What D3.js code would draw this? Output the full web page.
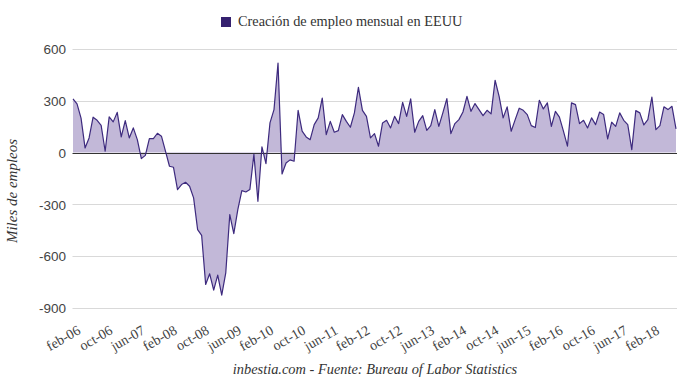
<!DOCTYPE html>
<html><head><meta charset="utf-8">
<script src="https://cdn.jsdelivr.net/npm/d3@7"></script>
<style>body{margin:0;background:#fff}svg{display:block}</style>
</head><body>
<svg id="c" width="680" height="380"></svg>
<script>
const startYear = 2006, startMonth = 1; // feb-06 (0-based month)
const monthNames = ["ene","feb","mar","abr","may","jun","jul","ago","sep","oct","nov","dic"];
const values = [
 311,282,200,27,85,205,187,158,8,207,178,
 233,91,185,85,143,75,-35,-16,81,81,112,95,
 8,-79,-85,-214,-185,-172,-195,-262,-446,-479,-764,-702,
 -797,-710,-826,-697,-359,-469,-330,-220,-228,-214,-10,-282,
 33,-64,172,249,519,-124,-60,-42,-50,245,124,91,
 75,162,201,316,104,181,118,127,220,181,147,230,
 378,245,210,85,110,37,172,187,143,210,168,291,
 210,311,118,181,214,129,156,249,152,230,313,110,
 168,191,235,326,239,284,249,214,245,224,419,326,
 201,265,124,191,257,245,220,156,145,303,253,288,
 152,239,205,124,37,288,278,168,187,143,201,162,
 235,220,79,176,152,230,187,162,17,243,230,160,
 191,322,133,156,265,249,268,137
];
const labels = values.map((v,i)=>{const m=(startMonth+i)%12, y=startYear+Math.floor((startMonth+i)/12);return monthNames[m]+"-"+String(y%100).padStart(2,"0");});
const yTicks = [600,300,0,-300,-600,-900];
const seriesName = "Creación de empleo mensual en EEUU";
const yTitle = "Miles de empleos";
const footer = "inbestia.com - Fuente: Bureau of Labor Statistics";

const svg = d3.select("#c");
const L=72.5, R=676, T=49, B=308;
const x = d3.scalePoint().domain(labels).range([73,676]);
const y = d3.scaleLinear().domain([-900,600]).range([B,T]);
const lineColor="#3d2a7e", fillColor="#c2b8d8";

// gridlines
svg.append("g").selectAll("line").data(yTicks.filter(d=>d!==0)).join("line")
  .attr("x1",L).attr("x2",677).attr("y1",d=>Math.round(y(d))+0.5).attr("y2",d=>Math.round(y(d))+0.5)
  .attr("stroke","#d9d9d9").attr("stroke-width",1);

// y tick labels
const yAxis = d3.axisLeft(y).tickValues(yTicks).tickFormat(d=>String(d)).tickSize(0).tickPadding(0);
const ga = svg.append("g").attr("transform",`translate(66,0)`).call(yAxis);
ga.select(".domain").remove();
ga.selectAll("text").attr("font-family","Liberation Sans, Arial, sans-serif").attr("font-size",13.5).attr("fill","#444").attr("dy","0.35em");

// area
const area = d3.area().x((d,i)=>x(labels[i])).y0(y(0)).y1(d=>y(d));
svg.append("path").datum(values).attr("d",area).attr("fill",fillColor);
const line = d3.line().x((d,i)=>x(labels[i])).y(d=>y(d));
// zero line
svg.append("line").attr("x1",L).attr("x2",677).attr("y1",Math.round(y(0))+0.5).attr("y2",Math.round(y(0))+0.5)
  .attr("stroke","#333").attr("stroke-width",1);
svg.append("path").datum(values).attr("d",line).attr("fill","none").attr("stroke",lineColor).attr("stroke-width",1.2).attr("stroke-linejoin","round");

// x labels
const xTickVals = labels.filter((d,i)=>i%8===0);
const xAxis = d3.axisBottom(x).tickValues(xTickVals).tickSize(0).tickPadding(0);
const gx = svg.append("g").attr("transform",`translate(0,${B})`).call(xAxis);
gx.select(".domain").remove();
gx.selectAll("text").attr("font-family","Liberation Serif, Times New Roman, serif").attr("font-size",14).attr("fill","#444")
  .attr("text-anchor","end").attr("dy",0).attr("y",0)
  .attr("transform","translate(8,25) rotate(-30)");

// legend/title
svg.append("rect").attr("x",221).attr("y",17).attr("width",10).attr("height",10).attr("fill","#35216f");
svg.append("text").attr("x",238).attr("y",26).text(seriesName)
  .attr("font-family","Liberation Serif, Times New Roman, serif").attr("font-size",14.3).attr("fill","#333");

// y title
svg.append("text").attr("transform","translate(17,191) rotate(-90)").attr("text-anchor","middle").text(yTitle)
  .attr("font-family","Liberation Serif, Times New Roman, serif").attr("font-style","italic").attr("font-size",15).attr("fill","#333");

// footer
svg.append("text").attr("x",375).attr("y",374).attr("text-anchor","middle").text(footer)
  .attr("font-family","Liberation Serif, Times New Roman, serif").attr("font-style","italic").attr("font-size",14.4).attr("fill","#333");
</script>
</body></html>
